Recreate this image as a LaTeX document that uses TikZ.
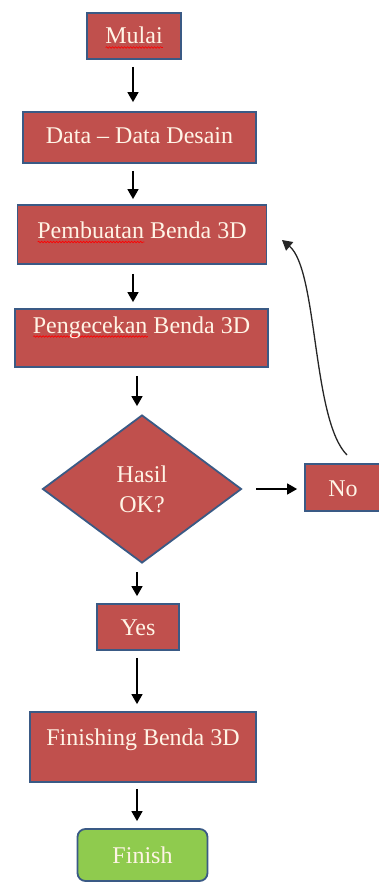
\documentclass[tikz,border=0pt]{standalone}
\usepackage{fontspec}
\setmainfont{Liberation Serif}
\newfontfamily\diagfont[Ligatures=TeX]{Liberation Serif}
\usetikzlibrary{shapes.geometric,arrows.meta,decorations.pathmorphing}
\definecolor{boxred}{HTML}{C0504D}
\definecolor{boxedge}{HTML}{3A5A85}
\definecolor{boxgreen}{HTML}{8FCB4E}
\definecolor{boxtext}{HTML}{FFF4E6}
\newcommand\spellmark[1]{\setbox0\hbox{#1}\rlap{\tikz[baseline=0pt]\draw[red, line width=0.6pt, decorate, decoration={snake, amplitude=0.8pt, segment length=3pt}] (0pt,-3.5pt) -- (\the\wd0,-3.5pt);}\box0\relax}
\begin{document}
\begin{tikzpicture}[x=1pt,y=-1pt,
  every node/.style={font=\diagfont\fontsize{24}{30}\selectfont, text=boxtext},
  procbox/.style={draw=boxedge, line width=1.8pt, fill=boxred, inner sep=0pt, text height=17pt},
  decbox/.style={diamond, draw=boxedge, line width=1.8pt, fill=boxred, inner sep=0pt, align=center, minimum width=199pt, minimum height=148pt},
  endbox/.style={draw=boxedge, line width=1.8pt, fill=boxgreen, rounded corners=8pt, inner sep=0pt, text height=17pt},
  arr/.style={line width=1.6pt, draw=black, -{Triangle[width=11pt,length=10pt]}},
  curvearr/.style={line width=1.3pt, draw=black!85, -{Triangle[width=11pt,length=10pt]}}]
\useasboundingbox (0,0) rectangle (379,882);

\node[procbox, minimum width=94pt, minimum height=46pt, text depth=1pt] (mulai) at (134,36) {\spellmark{Mulai}};
\node[procbox, minimum width=233pt, minimum height=51pt, text depth=4pt] (data) at (139.5,137.5) {Data \textendash{} Data Desain};
\node[procbox, minimum width=249pt, minimum height=59pt, text depth=9pt] (buat) at (142,234.5) {\spellmark{Pembuatan} Benda 3D};
\node[procbox, minimum width=253pt, minimum height=58pt, text depth=27pt] (cek) at (141.5,338) {\spellmark{Pengecekan} Benda 3D};
\node[decbox] (ok) at (142,489) {Hasil\\OK?};
\node[procbox, minimum width=76pt, minimum height=47pt, text depth=0pt] (no) at (343,487.5) {No};
\node[procbox, minimum width=82pt, minimum height=46pt, text depth=0pt] (yes) at (138,627) {Yes};
\node[procbox, minimum width=226pt, minimum height=70pt, text depth=21pt] (fin) at (143,747) {Finishing Benda 3D};
\node[endbox, minimum width=130pt, minimum height=52pt, text depth=1pt] (finish) at (142.5,855) {Finish};

\coordinate (colA) at (133,0);
\coordinate (colB) at (137,0);
\coordinate (loopstart) at (347,455);
\coordinate (looptip) at (282,240);

\draw[arr, shorten <=7pt, shorten >=9pt] (mulai.south -| colA) -- (data.north -| colA);
\draw[arr, shorten <=7pt, shorten >=5pt] (data.south -| colA) -- (buat.north -| colA);
\draw[arr, shorten <=9pt, shorten >=6pt] (buat.south -| colA) -- (cek.north -| colA);
\draw[arr, shorten <=8pt, shorten >=8pt] (cek.south -| colB) -- (ok.north -| colB);
\draw[arr, shorten <=8pt, shorten >=7pt] (ok.south -| colB) -- (yes.north -| colB);
\draw[arr, shorten <=7pt, shorten >=7pt] (yes.south -| colB) -- (fin.north -| colB);
\draw[arr, shorten <=6pt, shorten >=7pt] (fin.south -| colB) -- (finish.north -| colB);
\draw[arr, shorten <=14pt, shorten >=7pt] (ok.east) -- (no.west |- ok.east);
\draw[curvearr] (loopstart) .. controls (312,420) and (318,270) .. (looptip);
\end{tikzpicture}
\end{document}
